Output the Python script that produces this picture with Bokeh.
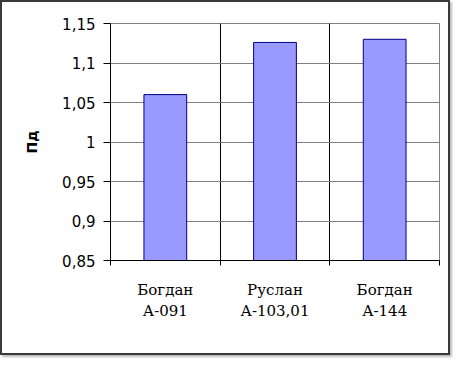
from bokeh.plotting import figure
from bokeh.models import FixedTicker, Range1d, CustomJSTickFormatter, ColumnDataSource
from bokeh.embed import file_html
from bokeh.resources import INLINE

categories = ["Богдан\nА-091", "Руслан\nА-103,01", "Богдан\nА-144"]
values = [1.06, 1.126, 1.13]
y_ticks = [0.85, 0.9, 0.95, 1.0, 1.05, 1.1, 1.15]
y_label = "Пд"

xpos = [i + 0.5 for i in range(len(categories))]
src = ColumnDataSource(dict(x=xpos, top=values, cat=categories))

p = figure(width=450, height=355,
           x_range=Range1d(0, len(categories)),
           y_range=Range1d(y_ticks[0], y_ticks[-1]),
           output_backend="svg", toolbar_location=None,
           min_border_left=108, min_border_right=13,
           min_border_top=21, min_border_bottom=97)
p.styles = {"border": "2px solid #3a3a3a", "box-shadow": "2px 2px 2px #bbbbbb"}
p.background_fill_color = "white"
p.border_fill_color = "white"
p.outline_line_color = "#808080"

p.vbar(x="x", top="top", bottom=y_ticks[0], width=0.39, fill_color="#9999FF",
       line_color="#000080", line_width=1, source=src)

# y axis
p.yaxis.ticker = FixedTicker(ticks=y_ticks, minor_ticks=[])
p.yaxis.formatter = CustomJSTickFormatter(code="return (+tick.toFixed(2)).toString().replace('.', ',');")
p.yaxis.major_tick_out = 7
p.yaxis.major_tick_in = 0
p.yaxis.minor_tick_out = 0
p.yaxis.major_label_standoff = 8
p.yaxis.major_label_text_font = "DejaVu Sans"
p.yaxis.major_label_text_font_size = "15px"
p.yaxis.major_label_text_color = "black"
p.yaxis.axis_line_color = "black"
p.yaxis.major_tick_line_color = "black"
p.yaxis.axis_label = y_label
p.yaxis.axis_label_text_font = "DejaVu Sans"
p.yaxis.axis_label_text_font_style = "bold"
p.yaxis.axis_label_text_font_size = "14px"
p.yaxis.axis_label_text_color = "black"
p.yaxis.axis_label_standoff = 19

# x axis
p.xaxis.ticker = FixedTicker(ticks=xpos, minor_ticks=list(range(len(categories) + 1)))
p.xaxis.formatter = CustomJSTickFormatter(args=dict(labels=categories),
                                          code="return labels[Math.floor(tick)];")
p.xaxis.major_tick_out = 0
p.xaxis.major_tick_in = 0
p.xaxis.minor_tick_out = 5
p.xaxis.minor_tick_in = 0
p.xaxis.minor_tick_line_color = "black"
p.xaxis.axis_line_color = "black"
p.xaxis.major_label_standoff = 15
p.xaxis.major_label_text_font = "DejaVu Serif"
p.xaxis.major_label_text_font_size = "15px"
p.xaxis.major_label_text_color = "black"

# grids
p.ygrid.ticker = FixedTicker(ticks=y_ticks)
p.ygrid.grid_line_color = "#808080"
p.xgrid.ticker = FixedTicker(ticks=list(range(1, len(categories))))
p.xgrid.grid_line_color = "black"

open("out.html", "w").write(file_html(p, INLINE))
